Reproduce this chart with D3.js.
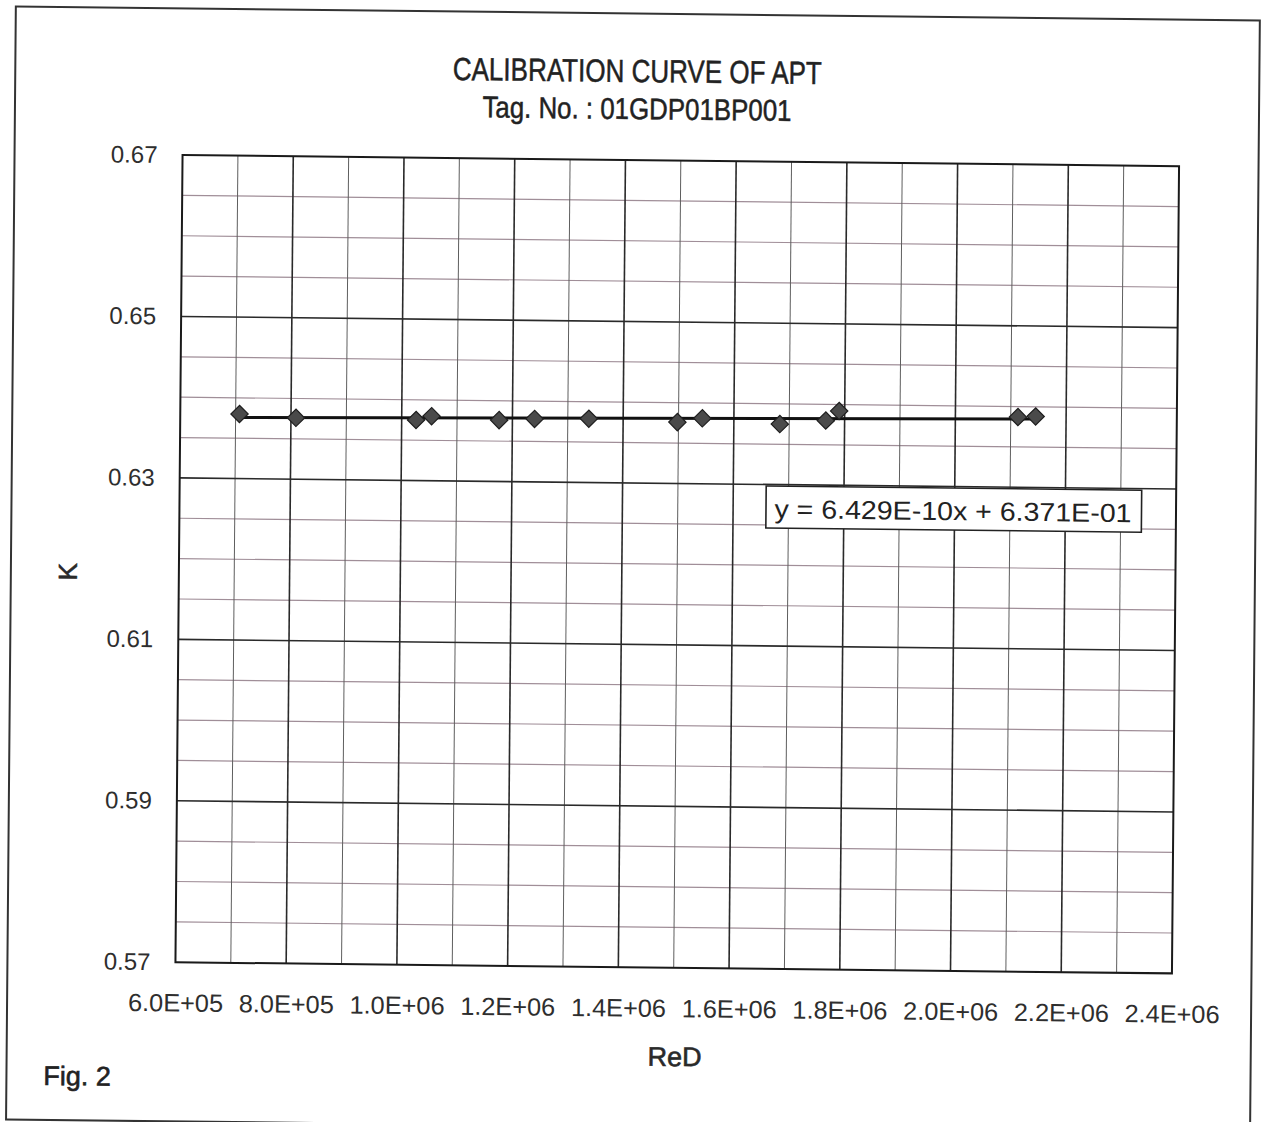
<!DOCTYPE html>
<html>
<head>
<meta charset="utf-8">
<script src="https://cdn.jsdelivr.net/npm/d3@7"></script>
<style>
  html, body { margin: 0; padding: 0; background: #fff; }
  svg { display: block; }
</style>
</head>
<body>
<div id="chart"></div>
<script>
// ---- data ----
const reD = [707000, 809000, 1026000, 1054000, 1176000, 1240000, 1338000, 1498000, 1543000, 1683000, 1766000, 1790000, 2113000, 2145000];
const kValues = [0.6380, 0.6376, 0.6375, 0.6380, 0.6376, 0.6378, 0.6379, 0.6376, 0.6381, 0.6375, 0.6380, 0.6392, 0.6387, 0.6388];
const trendSlope = 6.429e-10;
const trendIntercept = 0.6371;
const trendLabel = "y = 6.429E-10x + 6.371E-01";
const xTickValues = [600000, 800000, 1000000, 1200000, 1400000, 1600000, 1800000, 2000000, 2200000, 2400000];
const xTickLabels = ["6.0E+05", "8.0E+05", "1.0E+06", "1.2E+06", "1.4E+06", "1.6E+06", "1.8E+06", "2.0E+06", "2.2E+06", "2.4E+06"];
const yTickValues = [0.57, 0.59, 0.61, 0.63, 0.65, 0.67];
const yTickLabels = ["0.57", "0.59", "0.61", "0.63", "0.65", "0.67"];
const titleLines = ["CALIBRATION CURVE OF APT", "Tag. No. : 01GDP01BP001"];
const xTitle = "ReD";
const yTitle = "K";
const figLabel = "Fig. 2";

// ---- layout ----
const W = 1262, H = 1122;
const plot = { left: 179, top: 160.6, right: 1175.5, bottom: 967.8 };
const cx = 677.25, cy = 564.2;
const font = "'Liberation Sans', Arial, sans-serif";
const textCol = "#2e2e2e";

const svg = d3.select("#chart").append("svg")
  .attr("width", W).attr("height", H);
svg.append("rect").attr("width", W).attr("height", H).attr("fill", "#fff");

// slight skew/rotation like the scanned page
const root = svg.append("g")
  .attr("transform", `translate(${cx},${cy}) matrix(1,0.01119,-0.0088,1,0,0) translate(${-cx},${-cy})`);

// outer frame
root.append("rect")
  .attr("x", 11).attr("y", 14).attr("width", 1244).attr("height", 1113)
  .attr("fill", "none").attr("stroke", "#333").attr("stroke-width", 2);

const x = d3.scaleLinear().domain([600000, 2400000]).range([plot.left, plot.right]);
const y = d3.scaleLinear().domain([0.57, 0.67]).range([plot.bottom, plot.top]);

// grid values
const xMinor = d3.range(700000, 2400000, 200000);
const yMinor = d3.range(0, 20).map(i => 0.57 + i * 0.005).filter((v, i) => i % 4 !== 0);
const xMajor = xTickValues.slice(1, -1);
const yMajor = yTickValues.slice(1, -1);

const grid = root.append("g");
grid.selectAll("line.ymin").data(yMinor).join("line").attr("class", "ymin")
  .attr("x1", plot.left).attr("x2", plot.right)
  .attr("y1", d => y(d)).attr("y2", d => y(d))
  .attr("stroke", "#a08e98").attr("stroke-width", 1.2);
grid.selectAll("line.xmin").data(xMinor).join("line").attr("class", "xmin")
  .attr("x1", d => x(d)).attr("x2", d => x(d))
  .attr("y1", plot.top).attr("y2", plot.bottom)
  .attr("stroke", "#5e5e5e").attr("stroke-width", 1);
grid.selectAll("line.ymaj").data(yMajor).join("line").attr("class", "ymaj")
  .attr("x1", plot.left).attr("x2", plot.right)
  .attr("y1", d => y(d)).attr("y2", d => y(d))
  .attr("stroke", "#2a2a2a").attr("stroke-width", 1.6);
grid.selectAll("line.xmaj").data(xMajor).join("line").attr("class", "xmaj")
  .attr("x1", d => x(d)).attr("x2", d => x(d))
  .attr("y1", plot.top).attr("y2", plot.bottom)
  .attr("stroke", "#2a2a2a").attr("stroke-width", 1.6);

// plot border
root.append("rect")
  .attr("x", plot.left).attr("y", plot.top)
  .attr("width", plot.right - plot.left).attr("height", plot.bottom - plot.top)
  .attr("fill", "none").attr("stroke", "#1a1a1a").attr("stroke-width", 2);

// axes
const xAxis = root.append("g")
  .attr("transform", `translate(0,${plot.bottom})`)
  .call(d3.axisBottom(x).tickValues(xTickValues)
    .tickFormat((d, i) => xTickLabels[i]).tickSize(0).tickPadding(31.5));
xAxis.select(".domain").remove();
xAxis.selectAll("text")
  .attr("font-family", font).attr("font-size", 25).attr("fill", textCol)
  .attr("textLength", 95).attr("lengthAdjust", "spacingAndGlyphs");

const yAxis = root.append("g")
  .attr("transform", `translate(${plot.left},0)`)
  .call(d3.axisLeft(y).tickValues(yTickValues)
    .tickFormat((d, i) => yTickLabels[i]).tickSize(0).tickPadding(25));
yAxis.select(".domain").remove();
yAxis.selectAll("text")
  .attr("font-family", font).attr("font-size", 24).attr("fill", textCol);

// trendline
const xr = d3.extent(reD);
root.append("line")
  .attr("x1", x(xr[0])).attr("x2", x(xr[1]))
  .attr("y1", y(trendSlope * xr[0] + trendIntercept))
  .attr("y2", y(trendSlope * xr[1] + trendIntercept))
  .attr("stroke", "#111").attr("stroke-width", 3);

// markers
const diamond = d3.symbol(d3.symbolSquare, 150)();
root.append("g").selectAll("path").data(reD).join("path")
  .attr("d", diamond)
  .attr("transform", (d, i) => `translate(${x(d)},${y(kValues[i])}) rotate(45)`)
  .attr("fill", "#4a4a4a").attr("stroke", "#1e1e1e").attr("stroke-width", 1.2);

// equation label
root.append("rect")
  .attr("x", 765.5).attr("y", 485).attr("width", 375.5).attr("height", 42)
  .attr("fill", "#fff").attr("stroke", "#222").attr("stroke-width", 1.6);
root.append("text")
  .attr("x", 774).attr("y", 517)
  .attr("font-family", font).attr("font-size", 26).attr("fill", "#222")
  .attr("textLength", 357).attr("lengthAdjust", "spacingAndGlyphs")
  .text(trendLabel);

// titles
const narrow = "'Liberation Sans Narrow', 'Arial Narrow', 'Liberation Sans', sans-serif";
root.append("text")
  .attr("x", 633).attr("y", 82.5).attr("text-anchor", "middle")
  .attr("font-family", narrow).attr("font-size", 32).attr("fill", "#222")
  .attr("stroke", "#222").attr("stroke-width", 0.5)
  .attr("textLength", 369).attr("lengthAdjust", "spacingAndGlyphs")
  .text(titleLines[0]);
root.append("text")
  .attr("x", 633).attr("y", 119.6).attr("text-anchor", "middle")
  .attr("font-family", narrow).attr("font-size", 30).attr("fill", "#222")
  .attr("stroke", "#222").attr("stroke-width", 0.5)
  .attr("textLength", 309).attr("lengthAdjust", "spacingAndGlyphs")
  .text(titleLines[1]);

// axis titles
root.append("text")
  .attr("x", 679).attr("y", 1066).attr("text-anchor", "middle")
  .attr("font-family", font).attr("font-size", 27).attr("fill", "#2a2a2a")
  .attr("stroke", "#2a2a2a").attr("stroke-width", 0.6)
  .text(xTitle);
root.append("text")
  .attr("transform", "translate(77,578.5) rotate(-90)").attr("text-anchor", "middle")
  .attr("font-family", font).attr("font-size", 26).attr("fill", "#2a2a2a")
  .attr("stroke", "#2a2a2a").attr("stroke-width", 0.6)
  .text(yTitle);

// figure label
root.append("text")
  .attr("x", 48).attr("y", 1092)
  .attr("font-family", font).attr("font-size", 27).attr("fill", "#222")
  .attr("stroke", "#222").attr("stroke-width", 0.6)
  .text(figLabel);
</script>
</body>
</html>
